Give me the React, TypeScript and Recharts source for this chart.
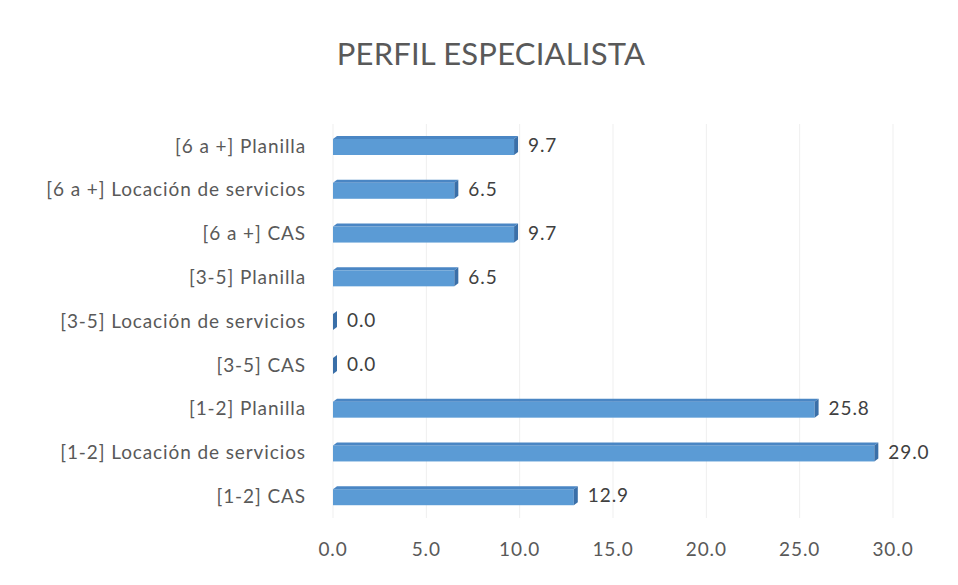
import { BarChart, Bar, XAxis, YAxis, CartesianGrid, LabelList } from 'recharts';

const categories = [
  '[6 a +] Planilla',
  '[6 a +] Locación de servicios',
  '[6 a +] CAS',
  '[3-5] Planilla',
  '[3-5] Locación de servicios',
  '[3-5] CAS',
  '[1-2] Planilla',
  '[1-2] Locación de servicios',
  '[1-2] CAS',
];
const values = [9.7, 6.5, 9.7, 6.5, 0.0, 0.0, 25.8, 29.0, 12.9];
const xTicks = [0, 5, 10, 15, 20, 25, 30];

const data = categories.map((name, i) => ({ name, value: values[i] }));

const FONT = 'Lato, "Open Sans", sans-serif';
const DEPTH = 4;
const textStyle = { fill: '#595959', fontSize: 19, fontFamily: FONT, letterSpacing: 0.9 };

// pseudo-3D bar: front face, top face and right side face
function Bar3D(props: any) {
  const { x, y, width, height } = props;
  const w = Math.max(0, width);
  const top = y + 3;
  return (
    <g>
      <rect x={x} y={top} width={w} height={height - 3} fill="#5b9bd5" />
      <polygon
        points={`${x},${top} ${x + DEPTH},${y} ${x + w + DEPTH},${y} ${x + w},${top}`}
        fill="#4a86c4"
      />
      <polygon
        points={`${x + w},${top} ${x + w + DEPTH},${y} ${x + w + DEPTH},${y + height - 3} ${x + w},${y + height}`}
        fill="#3a6fa8"
      />
    </g>
  );
}

export default function App() {
  return (
    <div style={{ position: 'absolute', left: 0, top: 0, width: 958, height: 585, background: '#fff', fontFamily: FONT }}>
      <div
        style={{
          position: 'absolute',
          top: 34,
          left: 0,
          width: 982,
          textAlign: 'center',
          fontSize: 31,
          letterSpacing: 0.2,
          color: '#595959',
        }}
      >
        PERFIL ESPECIALISTA
      </div>
      <BarChart
        width={958}
        height={585}
        data={data}
        layout="vertical"
        margin={{ top: 124, right: 65, bottom: 32, left: 0 }}
        barCategoryGap={13}
      >
        <CartesianGrid horizontal={false} stroke="#efefef" />
        <XAxis
          type="number"
          domain={[0, 30]}
          ticks={xTicks}
          tickFormatter={(v: number) => v.toFixed(1)}
          axisLine={false}
          tickLine={false}
          tickSize={0}
          tickMargin={25}
          height={35}
          tick={textStyle}
        />
        <YAxis
          type="category"
          dataKey="name"
          width={333}
          axisLine={false}
          tickLine={false}
          tickSize={0}
          tickMargin={27}
          interval={0}
          tick={textStyle}
        />
        <Bar dataKey="value" barSize={19} shape={<Bar3D />} isAnimationActive={false}>
          <LabelList
            dataKey="value"
            position="right"
            offset={14}
            formatter={(v: any) => Number(v).toFixed(1)}
            style={{ fill: '#404040', fontSize: 19, fontFamily: FONT, letterSpacing: 0.9 }}
          />
        </Bar>
      </BarChart>
    </div>
  );
}
